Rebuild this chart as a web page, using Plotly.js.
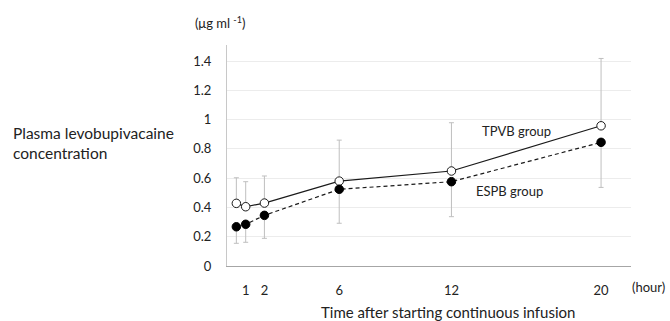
<!DOCTYPE html>
<html>
<head>
<meta charset="utf-8">
<script src="https://cdn.plot.ly/plotly-3.0.1.min.js"></script>
<style>html,body{margin:0;padding:0;background:#fff;}#chart{width:670px;height:321px;}</style>
</head>
<body>
<div id="chart"></div>
<script>
// Data
const timeHours = [0.5, 1, 2, 6, 12, 20];
const tpvbMean = [0.428, 0.405, 0.43, 0.58, 0.649, 0.958];
const tpvbErrUp = [0.175, 0.171, 0.185, 0.28, 0.33, 0.46];
const espbMean = [0.268, 0.285, 0.346, 0.524, 0.576, 0.845];
const espbErrDown = [0.113, 0.123, 0.157, 0.232, 0.239, 0.308];
const xTickVals = [1, 2, 6, 12, 20];
const xTickText = ["1", "2", "6", "12", "20"];
const yTickVals = [0, 0.2, 0.4, 0.6, 0.8, 1, 1.2, 1.4];
const yTickText = ["0", "0.2", "0.4", "0.6", "0.8", "1", "1.2", "1.4"];
const seriesNames = ["TPVB group", "ESPB group"];

const FONT = "Lato, 'Open Sans', sans-serif";
const zeros = timeHours.map(() => 0);

const traces = [
  {
    x: timeHours, y: tpvbMean, name: seriesNames[0], type: "scatter", mode: "lines+markers",
    line: {color: "#1a1a1a", width: 1.2},
    marker: {symbol: "circle", size: 8.5, color: "#ffffff", line: {color: "#1a1a1a", width: 1}},
    error_y: {type: "data", symmetric: false, array: tpvbErrUp, arrayminus: zeros, color: "#bfbfbf", thickness: 1, width: 2.5}
  },
  {
    x: timeHours, y: espbMean, name: seriesNames[1], type: "scatter", mode: "lines+markers",
    line: {color: "#1a1a1a", width: 1.2, dash: "4px,3px"},
    marker: {symbol: "circle", size: 8.5, color: "#000000", line: {color: "#000000", width: 1}},
    error_y: {type: "data", symmetric: false, array: zeros, arrayminus: espbErrDown, color: "#bfbfbf", thickness: 1, width: 2.5}
  }
];

const layout = {
  width: 670, height: 321,
  margin: {l: 227, r: 39, t: 45, b: 55},
  paper_bgcolor: "#ffffff", plot_bgcolor: "#ffffff",
  showlegend: false,
  font: {family: FONT, size: 13, color: "#222"},
  xaxis: {
    range: [0, 21.6], tickvals: xTickVals, ticktext: xTickText,
    showgrid: false, zeroline: false, showline: true, linecolor: "#a6a6a6", linewidth: 1,
    ticks: "", ticklabelstandoff: 12, tickfont: {family: FONT, size: 13, color: "#222"},
    fixedrange: true
  },
  yaxis: {
    range: [0, 1.51], tickvals: yTickVals, ticktext: yTickText,
    showgrid: true, gridcolor: "#ececec", gridwidth: 1, zeroline: false,
    showline: true, linecolor: "#c8c8c8", linewidth: 1,
    ticks: "", ticklabelstandoff: 12, tickfont: {family: FONT, size: 13, color: "#222"},
    fixedrange: true
  },
  annotations: [
    {text: "(μg ml <sup>-1</sup>)", xref: "paper", yref: "paper", x: 0, y: 1, xanchor: "center", yanchor: "middle", showarrow: false, font: {family: FONT, size: 13, color: "#222"}},
    {text: "Plasma levobupivacaine<br>concentration", xref: "paper", yref: "paper", x: 0, y: 0, xanchor: "left", yanchor: "middle", showarrow: false, align: "left", font: {family: FONT, size: 15.5, color: "#222"}},
    {text: "(hour)", xref: "paper", yref: "paper", x: 1, y: 0, xanchor: "left", yanchor: "middle", showarrow: false, font: {family: FONT, size: 13, color: "#222"}},
    {text: "Time after starting continuous infusion", xref: "paper", yref: "paper", x: 0.5, y: 0, xanchor: "center", yanchor: "middle", showarrow: false, font: {family: FONT, size: 15, color: "#222"}},
    {text: seriesNames[0], xref: "x", yref: "y", x: 15.5, y: 0.92, xanchor: "center", yanchor: "middle", showarrow: false, font: {family: FONT, size: 13, color: "#222"}},
    {text: seriesNames[1], xref: "x", yref: "y", x: 15.1, y: 0.51, xanchor: "center", yanchor: "middle", showarrow: false, font: {family: FONT, size: 13, color: "#222"}}
  ]
};

// position paper-based annotations in pixels relative to plot area
const plotW = 670 - 227 - 39, plotH = 321 - 45 - 55;
function px2paperX(px) { return (px - 227) / plotW; }
function py2paperY(py) { return (321 - 55 - py) / plotH; }
layout.annotations[0].x = px2paperX(220); layout.annotations[0].y = py2paperY(23);
layout.annotations[1].x = px2paperX(11); layout.annotations[1].y = py2paperY(143);
layout.annotations[2].x = px2paperX(630); layout.annotations[2].y = py2paperY(287);
layout.annotations[3].x = px2paperX(448); layout.annotations[3].y = py2paperY(312);

Plotly.newPlot("chart", traces, layout, {staticPlot: true, displayModeBar: false});
</script>
</body>
</html>
